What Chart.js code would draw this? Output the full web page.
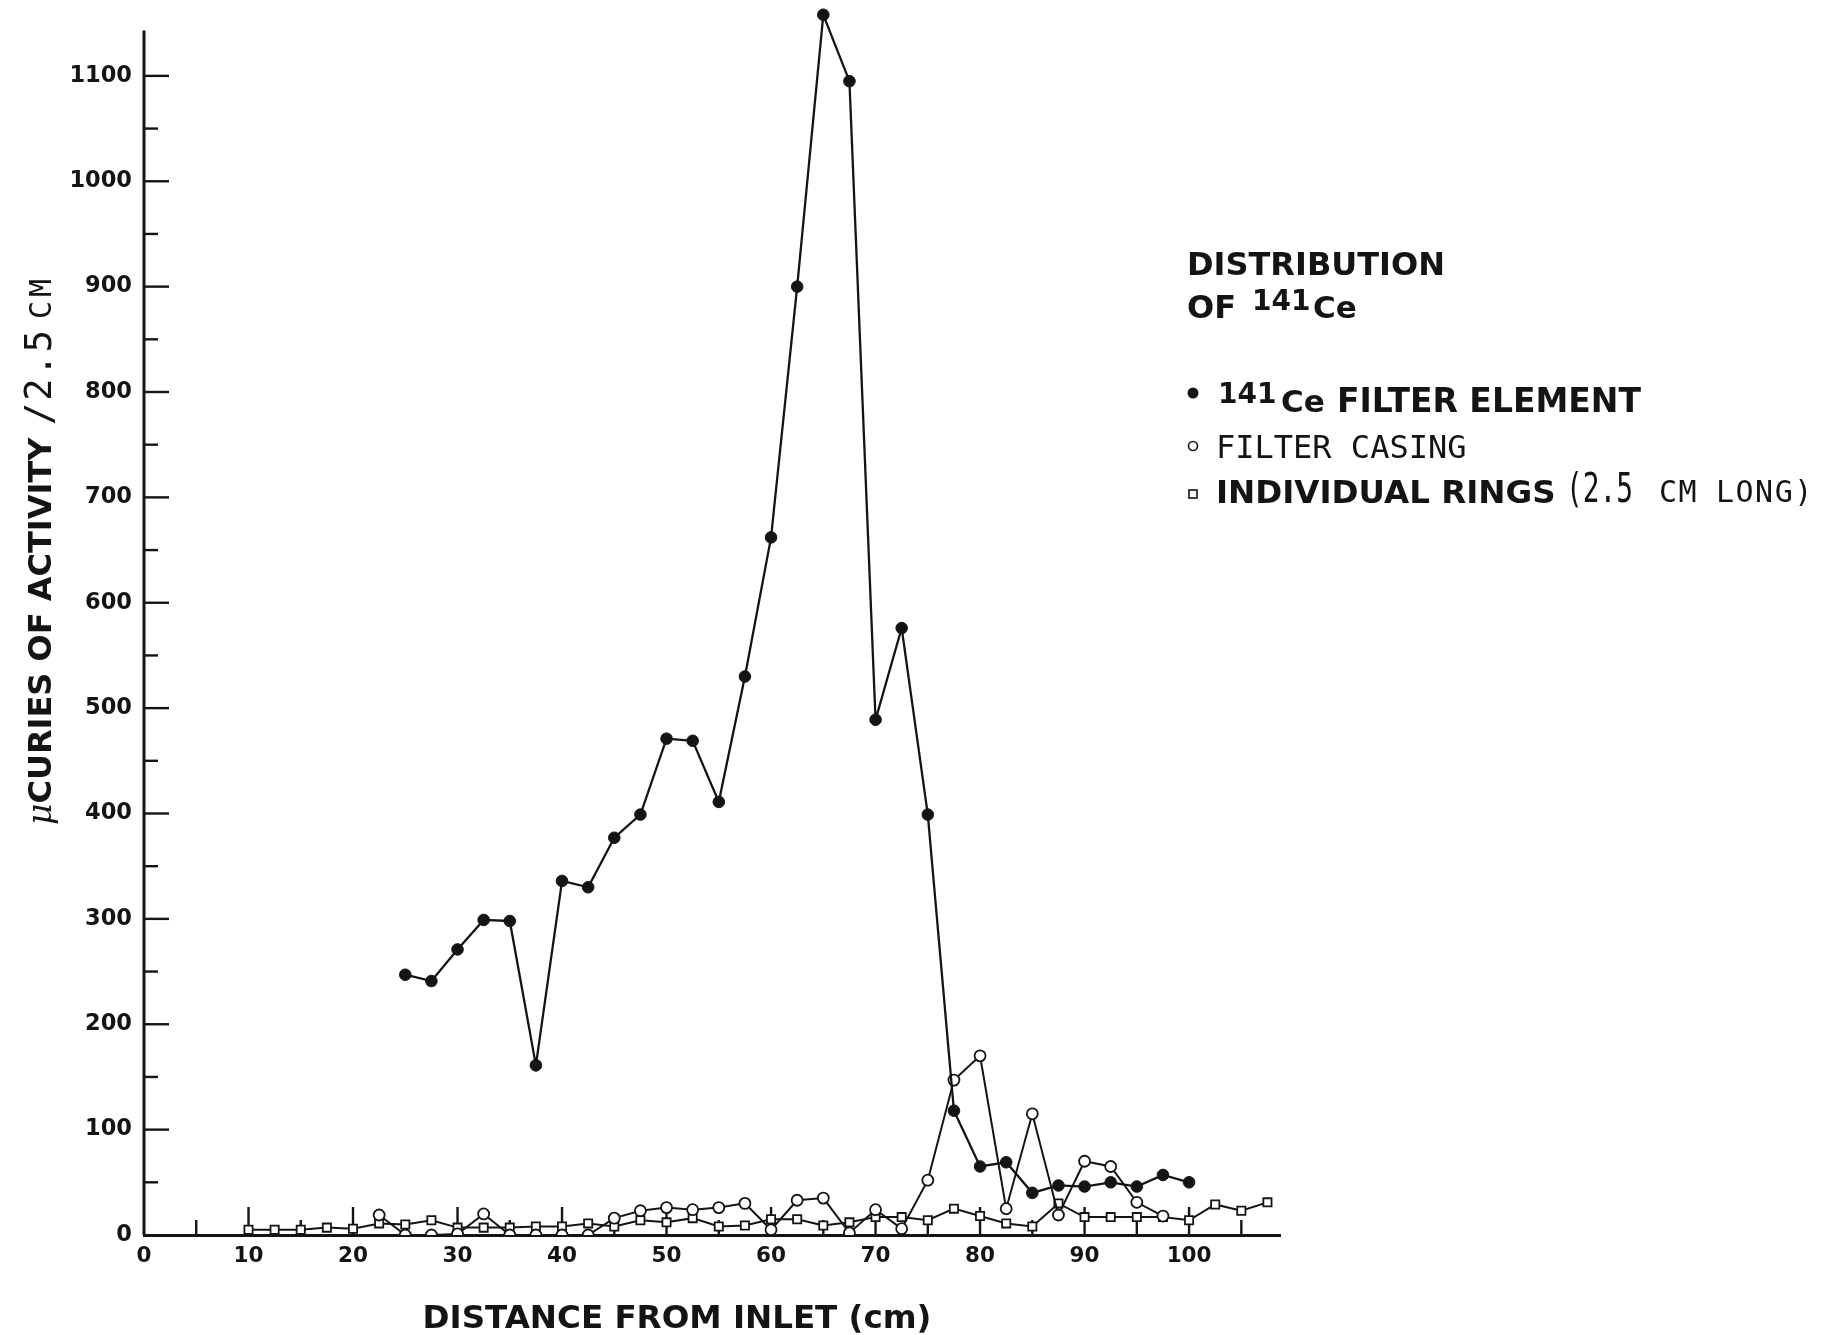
<!DOCTYPE html>
<html><head><meta charset="utf-8">
<script src="https://cdn.jsdelivr.net/npm/chart.js@4.4.0/dist/chart.umd.min.js"></script>
<style>html,body{margin:0;padding:0;background:#fff;}canvas{display:block;}</style>
</head><body>
<canvas id="c" width="1821" height="1335"></canvas>
<script>
// ---- data ----
const elementX = [25,27.5,30,32.5,35,37.5,40,42.5,45,47.5,50,52.5,55,57.5,60,62.5,65,67.5,70,72.5,75,77.5,80,82.5,85,87.5,90,92.5,95,97.5,100];
const elementY = [247,241,271,299,298,161,336,330,377,399,471,469,411,530,662,900,1158,1095,489,576,399,118,65,69,40,47,46,50,46,57,50];

const casingX = [22.5,25,27.5,30,32.5,35,37.5,40,42.5,45,47.5,50,52.5,55,57.5,60,62.5,65,67.5,70,72.5,75,77.5,80,82.5,85,87.5,90,92.5,95,97.5];
const casingY = [19,0,0,1,20,0,0,0,0,16,23,26,24,26,30,5,33,35,2,24,6,52,147,170,25,115,19,70,65,31,18];

const ringsX = [10,12.5,15,17.5,20,22.5,25,27.5,30,32.5,35,37.5,40,42.5,45,47.5,50,52.5,55,57.5,60,62.5,65,67.5,70,72.5,75,77.5,80,82.5,85,87.5,90,92.5,95,97.5,100,102.5,105,107.5];
const ringsY = [5,5,5,7,6,11,10,14,7,7,7,8,8,11,8,14,12,16,8,9,15,15,9,12,17,17,14,25,18,11,8,30,17,17,17,17,14,29,23,31];

const xTickLabels = [0,10,20,30,40,50,60,70,80,90,100];
const yTickLabels = [0,100,200,300,400,500,600,700,800,900,1000,1100];

const xTitle = 'DISTANCE FROM INLET (cm)';
const legendTitle1 = 'DISTRIBUTION';
const legendNames = ['FILTER ELEMENT', 'FILTER CASING', 'INDIVIDUAL RINGS'];

const INK = '#141414';
const AXIS_TOP = 1143;   // the drawn y axis stops here
const pts = (xs, ys) => xs.map((v, i) => ({x: v, y: ys[i]}));

const BOLDF = (s) => 'bold ' + s + 'px "DejaVu Sans", sans-serif';
const MONOF = (s) => s + 'px "DejaVu Sans Mono", monospace';

const overlay = {
  id: 'overlay',
  beforeDatasetsDraw(chart) {
    const {ctx, chartArea: {left, bottom}, scales: {x, y}} = chart;
    ctx.save();
    ctx.strokeStyle = INK; ctx.lineCap = 'butt';
    // y axis line
    ctx.lineWidth = 3;
    ctx.beginPath(); ctx.moveTo(left, bottom); ctx.lineTo(left, y.getPixelForValue(AXIS_TOP)); ctx.stroke();
    // inward ticks
    ctx.lineWidth = 2.4;
    for (let v = 50; v <= 1100; v += 50) {
      const py = y.getPixelForValue(v);
      const len = v % 100 === 0 ? 25 : 14;
      ctx.beginPath(); ctx.moveTo(left, py); ctx.lineTo(left + len, py); ctx.stroke();
    }
    for (let v = 5; v <= 105; v += 5) {
      const px = x.getPixelForValue(v);
      const len = (v % 10 === 0 && v <= 100) ? 28 : 15;
      ctx.beginPath(); ctx.moveTo(px, bottom); ctx.lineTo(px, bottom - len); ctx.stroke();
    }
    ctx.restore();
  },
  afterDraw(chart) {
    const ctx = chart.ctx;
    ctx.save();
    ctx.fillStyle = INK; ctx.strokeStyle = INK;
    ctx.textAlign = 'left'; ctx.textBaseline = 'alphabetic';

    // x axis title
    ctx.font = BOLDF(32.5);
    ctx.textAlign = 'center';
    ctx.fillText(xTitle, 677, 1328);
    ctx.textAlign = 'left';

    // y axis title (rotated, reading bottom to top)
    ctx.save();
    ctx.translate(51, 825);
    ctx.rotate(-Math.PI / 2);
    ctx.font = 'italic 33px "DejaVu Serif", serif';
    ctx.fillText('\u03BC', 0, 0);
    const mu = ctx.measureText('\u03BC').width;
    ctx.font = BOLDF(32);
    ctx.fillText('CURIES OF ACTIVITY', mu, 0);
    ctx.font = MONOF(37); ctx.letterSpacing = '2px';
    ctx.fillText('/2.5', 400, 0);
    ctx.font = MONOF(30); ctx.letterSpacing = '4px';
    ctx.fillText('CM', 506, 0);
    ctx.letterSpacing = '0px';
    ctx.restore();

    // legend block
    ctx.font = BOLDF(32); ctx.fillText(legendTitle1, 1187, 275);
    ctx.fillText('OF', 1187, 318);
    ctx.font = BOLDF(28); ctx.fillText('141', 1252, 310);
    ctx.font = BOLDF(31); ctx.fillText('Ce', 1313, 318);

    // item 1
    ctx.beginPath(); ctx.arc(1193, 393, 5.5, 0, Math.PI * 2); ctx.fill();
    ctx.font = BOLDF(28); ctx.fillText('141', 1218, 403);
    ctx.font = BOLDF(31); ctx.fillText('Ce', 1281, 412);
    ctx.font = BOLDF(33); ctx.fillText(legendNames[0], 1337, 412);

    // item 2
    ctx.lineWidth = 1.6;
    ctx.beginPath(); ctx.arc(1193, 446, 4.5, 0, Math.PI * 2); ctx.stroke();
    ctx.font = MONOF(32); ctx.fillText(legendNames[1], 1216, 458);

    // item 3
    ctx.strokeRect(1189, 490, 8, 8);
    ctx.font = BOLDF(32.5); ctx.fillText(legendNames[2], 1216, 503);
    ctx.save();
    ctx.translate(1566, 502); ctx.scale(0.68, 1);
    ctx.font = MONOF(41); ctx.fillText('(2.5', 0, 0);
    ctx.restore();
    ctx.font = MONOF(30); ctx.letterSpacing = '1.5px';
    ctx.fillText('CM', 1659, 502);
    ctx.fillText('LONG)', 1716, 502);
    ctx.letterSpacing = '0px';
    ctx.restore();
  }
};

new Chart(document.getElementById('c').getContext('2d'), {
  type: 'line',
  data: {
    datasets: [
      {
        label: '141Ce FILTER ELEMENT', data: pts(elementX, elementY),
        borderColor: INK, backgroundColor: INK, borderWidth: 2.3,
        pointRadius: 5.8, pointBackgroundColor: INK, pointBorderColor: INK, pointBorderWidth: 1,
        tension: 0
      },
      {
        label: 'FILTER CASING', data: pts(casingX, casingY),
        borderColor: INK, backgroundColor: '#fff', borderWidth: 2,
        pointRadius: 5.5, pointBackgroundColor: '#fff', pointBorderColor: INK, pointBorderWidth: 1.8,
        tension: 0
      },
      {
        label: 'INDIVIDUAL RINGS', data: pts(ringsX, ringsY),
        borderColor: INK, backgroundColor: '#fff', borderWidth: 2,
        pointStyle: 'rect', pointRadius: 5.8, pointBackgroundColor: '#fff', pointBorderColor: INK, pointBorderWidth: 1.8,
        tension: 0
      }
    ]
  },
  options: {
    responsive: false, animation: false, devicePixelRatio: 1,
    layout: {padding: {top: 2, right: 541, left: 0, bottom: 0}},
    plugins: {legend: {display: false}, tooltip: {enabled: false}},
    scales: {
      x: {
        type: 'linear', min: 0, max: 108.7,
        afterFit(s) { s.height = 100; s.paddingLeft = 0; s.paddingRight = 0; },
        afterBuildTicks(s) { s.ticks = xTickLabels.map(v => ({value: v})); },
        border: {display: true, color: INK, width: 3},
        grid: {display: false, drawTicks: false},
        ticks: {
          autoSkip: false, maxRotation: 0, padding: 9, color: INK,
          font: {family: '"DejaVu Sans", sans-serif', weight: 'bold', size: 21.5},
          callback: (v) => String(v)
        }
      },
      y: {
        type: 'linear', min: 0, max: 1164.8,
        afterFit(s) { s.width = 144; s.paddingTop = 0; s.paddingBottom = 0; },
        afterBuildTicks(s) { s.ticks = yTickLabels.map(v => ({value: v})); },
        border: {display: false},
        grid: {display: false, drawTicks: false},
        ticks: {
          autoSkip: false, padding: 12, color: INK,
          font: {family: '"DejaVu Sans", sans-serif', weight: 'bold', size: 22.5},
          callback: (v) => String(v)
        }
      }
    }
  },
  plugins: [overlay]
});
</script>
</body></html>
